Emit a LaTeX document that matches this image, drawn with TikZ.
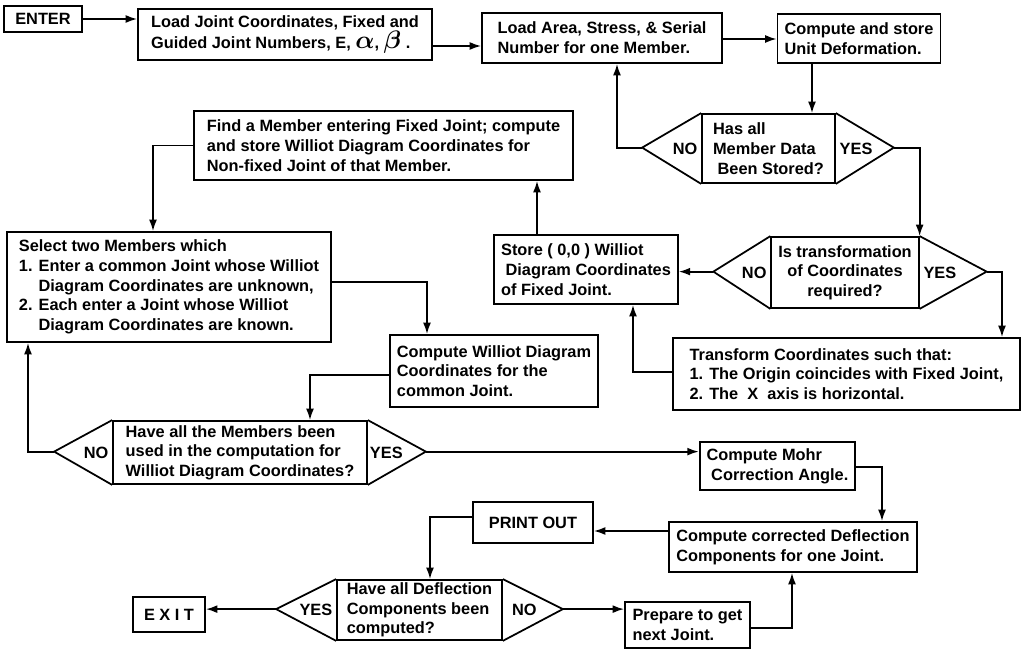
\documentclass[tikz,border=0pt]{standalone}
\usepackage{fontspec}
\setmainfont{Liberation Sans}
\usetikzlibrary{arrows.meta}

\begin{document}
\begin{tikzpicture}[x=0.02cm,y=-0.02cm,
	box/.style={draw,line width=1pt,align=left,inner xsep=4pt,inner ysep=1pt,font=\fontsize{9.3}{11.2}\selectfont\bfseries},
	lbl/.style={inner sep=2pt,font=\fontsize{9.3}{11.2}\selectfont\bfseries},
	flow/.style={line width=1pt},
	arr/.style={flow,-{Latex[length=6.5pt,width=4.5pt]}}]

	\useasboundingbox (0,0) rectangle (1029,651);

	% boxes
	\node [box,minimum width=1.56cm,minimum height=0.52cm,align=center] (enter) at (43,19) {ENTER};
	\node [box,minimum width=5.88cm,minimum height=1.02cm] (ljc) at (285,34.5) {Load Joint Coordinates, Fixed and\\Guided Joint Numbers, E, {\Large\boldmath$\alpha$}, {\Large\boldmath$\beta$} .};
	\node [box,minimum width=4.8cm,minimum height=1.0cm] (lam) at (602,38) {Load Area, Stress, \& Serial\\Number for one Member.};
	\node [box,minimum width=3.12cm,minimum height=0.98cm] (unit) at (859,38.5) {Compute and store\\Unit Deformation.};
	\node [box,minimum width=7.58cm,minimum height=1.38cm] (find) at (383.5,145.5) {Find a Member entering Fixed Joint; compute\\and store Williot Diagram Coordinates for\\Non-fixed Joint of that Member.};
	\node [box,minimum width=6.48cm,minimum height=2.2cm] (sel) at (169,287) {Select two Members which\\1. Enter a common Joint whose Williot\\\phantom{1. }Diagram Coordinates are unknown,\\2. Each enter a Joint whose Williot\\\phantom{2. }Diagram Coordinates are known.};
	\node [box,minimum width=3.64cm,minimum height=1.38cm] (zero) at (586,269.5) {Store ( 0,0 ) Williot\\\ Diagram Coordinates\\of Fixed Joint.};
	\node [box,minimum width=6.94cm,minimum height=1.44cm] (trans) at (846.5,374) {Transform Coordinates such that:\\1. The Origin coincides with Fixed Joint,\\2. The \ X \ axis is horizontal.};
	\node [box,minimum width=4.16cm,minimum height=1.44cm] (cwil) at (494,371) {Compute Williot Diagram\\Coordinates for the\\common Joint.};
	\node [box,minimum width=2.98cm,minimum height=0.96cm] (mohr) at (777.5,466) {Compute Mohr\\\ Correction Angle.};
	\node [box,minimum width=4.88cm,minimum height=1.0cm] (defl) at (793,547) {Compute corrected Deflection\\Components for one Joint.};
	\node [box,minimum width=2.4cm,minimum height=0.82cm,align=center] (print) at (533,522.5) {PRINT OUT};
	\node [box,minimum width=1.44cm,minimum height=0.7cm,align=center] (exit) at (169,614.5) {E X I T};
	\node [box,minimum width=2.5cm,minimum height=0.92cm] (next) at (687.5,625) {Prepare to get\\next Joint.};

	% decisions
	\node [box,minimum width=2.66cm,minimum height=1.38cm] (dstor) at (768.5,148.5) {Has all\\Member Data\\\ Been Stored?};
	\draw [flow] (dstor.north west) -- ++(-59,34.5) coordinate (dstorl) -- (dstor.south west);
	\draw [flow] (dstor.north east) -- ++(58,34.5) coordinate (dstorr) -- (dstor.south east);
	\node [lbl,anchor=east] (dstorno) at (dstor.west) {NO};
	\node [lbl,anchor=west] (dstoryes) at (dstor.east) {YES};

	\node [box,minimum width=2.72cm,minimum height=1.42cm,align=center] (dtrans) at (845,272.5) {Is transformation\\of Coordinates\\required?};
	\draw [flow] (dtrans.north west) -- ++(-57,35.5) coordinate (dtransl) -- (dtrans.south west);
	\draw [flow] (dtrans.north east) -- ++(67,35.5) coordinate (dtransr) -- (dtrans.south east);
	\node [lbl,anchor=east] (dtransno) at (dtrans.west) {NO};
	\node [lbl,anchor=west] (dtransyes) at (dtrans.east) {YES};

	\node [box,minimum width=5.08cm,minimum height=1.26cm] (dmem) at (240,452.5) {Have all the Members been\\used in the computation for\\Williot Diagram Coordinates?};
	\draw [flow] (dmem.north west) -- ++(-58,31.5) coordinate (dmeml) -- (dmem.south west);
	\draw [flow] (dmem.north east) -- ++(58,31.5) coordinate (dmemr) -- (dmem.south east);
	\node [lbl,anchor=east] (dmemno) at (dmem.west) {NO};
	\node [lbl,anchor=west,inner xsep=1pt] (dmemyes) at (dmem.east) {YES};

	\node [box,minimum width=3.3cm,minimum height=1.2cm] (ddef) at (419.5,610) {Have all Deflection\\Components been\\computed?};
	\draw [flow] (ddef.north west) -- ++(-60,30) coordinate (ddefl) -- (ddef.south west);
	\draw [flow] (ddef.north east) -- ++(60,30) coordinate (ddefr) -- (ddef.south east);
	\node [lbl,anchor=east] (ddefyes) at (ddef.west) {YES};
	\node [lbl,anchor=west,xshift=3pt] (ddefno) at (ddef.east) {NO};

	% connectors
	\draw [arr] (enter.east) -- (enter.east -| ljc.west);
	\draw [arr] (ljc.east |- 0,46) -- (lam.west |- 0,46);
	\draw [arr] (lam.east |- 0,39) -- (unit.west |- 0,39);
	\draw [arr] (unit.south -| 812,0) -- (dstor.north -| 812,0);
	\draw [arr] (dstorl) -| (lam.south -| 617,0);
	\draw [arr] (dstorr) -| (dtrans.north east);
	\draw [arr] (dtransl) -- (zero.east |- dtransl);
	\draw [arr] (dtransr) -| (trans.north -| 1002,0);
	\draw [arr] (trans.west |- 0,372) -| (zero.south -| 633,0);
	\draw [arr] (zero.north -| 537,0) -- (find.south -| 537,0);
	\draw [arr] (find.west) -| (sel.north -| 153,0);
	\draw [arr] (sel.east |- 0,282) -| (cwil.north -| 427,0);
	\draw [arr] (cwil.west |- 0,375) -| (dmem.north -| 310,0);
	\draw [arr] (dmeml) -| (sel.south -| 28,0);
	\draw [arr] (dmemr) -- (mohr.west |- dmemr);
	\draw [arr] (mohr.east |- 0,467) -| (defl.north -| 882,0);
	\draw [arr] (defl.west |- 0,531) -- (print.east |- 0,531);
	\draw [arr] (print.west |- 0,517) -| (ddef.north -| 430,0);
	\draw [arr] (ddefl) -- (exit.east |- ddefl);
	\draw [arr] (ddefr) -- (next.west |- ddefr);
	\draw [arr] (next.east |- 0,628) -| (defl.south -| 792,0);
\end{tikzpicture}
\end{document}
